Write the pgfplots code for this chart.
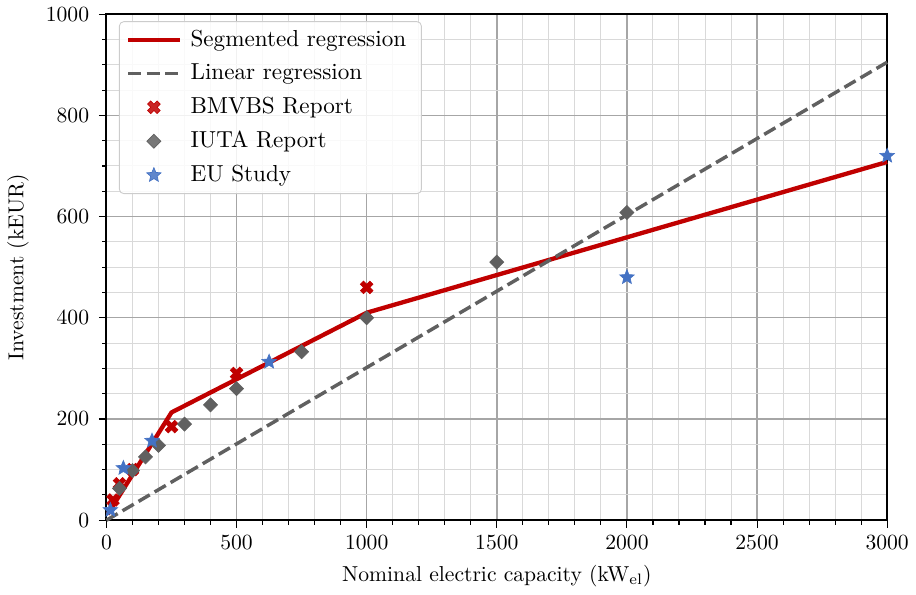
\documentclass[border=0pt]{standalone}
\usepackage{pgfplots}
\pgfplotsset{compat=1.18}
\definecolor{segred}{RGB}{192,0,0}
\definecolor{dgray}{RGB}{96,96,96}
\definecolor{eublue}{RGB}{68,114,196}
\pgfdeclareplotmark{fstar}{%
  \pgfpathmoveto{\pgfpointpolar{90}{\pgfplotmarksize}}%
  \pgfpathlineto{\pgfpointpolar{126}{0.45\pgfplotmarksize}}%
  \pgfpathlineto{\pgfpointpolar{162}{\pgfplotmarksize}}%
  \pgfpathlineto{\pgfpointpolar{198}{0.45\pgfplotmarksize}}%
  \pgfpathlineto{\pgfpointpolar{234}{\pgfplotmarksize}}%
  \pgfpathlineto{\pgfpointpolar{270}{0.45\pgfplotmarksize}}%
  \pgfpathlineto{\pgfpointpolar{306}{\pgfplotmarksize}}%
  \pgfpathlineto{\pgfpointpolar{342}{0.45\pgfplotmarksize}}%
  \pgfpathlineto{\pgfpointpolar{18}{\pgfplotmarksize}}%
  \pgfpathlineto{\pgfpointpolar{54}{0.45\pgfplotmarksize}}%
  \pgfpathclose\pgfusepathqfillstroke}
\pgfdeclareplotmark{fX}{%
  \pgftransformrotate{45}%
  \pgfpathmoveto{\pgfpoint{-0.333\pgfplotmarksize}{-\pgfplotmarksize}}%
  \pgfpathlineto{\pgfpoint{-0.333\pgfplotmarksize}{-0.333\pgfplotmarksize}}%
  \pgfpathlineto{\pgfpoint{-\pgfplotmarksize}{-0.333\pgfplotmarksize}}%
  \pgfpathlineto{\pgfpoint{-\pgfplotmarksize}{0.333\pgfplotmarksize}}%
  \pgfpathlineto{\pgfpoint{-0.333\pgfplotmarksize}{0.333\pgfplotmarksize}}%
  \pgfpathlineto{\pgfpoint{-0.333\pgfplotmarksize}{\pgfplotmarksize}}%
  \pgfpathlineto{\pgfpoint{0.333\pgfplotmarksize}{\pgfplotmarksize}}%
  \pgfpathlineto{\pgfpoint{0.333\pgfplotmarksize}{0.333\pgfplotmarksize}}%
  \pgfpathlineto{\pgfpoint{\pgfplotmarksize}{0.333\pgfplotmarksize}}%
  \pgfpathlineto{\pgfpoint{\pgfplotmarksize}{-0.333\pgfplotmarksize}}%
  \pgfpathlineto{\pgfpoint{0.333\pgfplotmarksize}{-0.333\pgfplotmarksize}}%
  \pgfpathlineto{\pgfpoint{0.333\pgfplotmarksize}{-\pgfplotmarksize}}%
  \pgfpathclose\pgfusepathqfillstroke}
\begin{document}
\begin{tikzpicture}
\begin{axis}[
  scale only axis,
  width=361pt, height=234pt,
  xmin=0, xmax=3000, ymin=0, ymax=1000,
  xtick={0,500,...,3000}, ytick={0,200,...,1000},
  minor x tick num=4, minor y tick num=3,
  scaled x ticks=false,
  xticklabel style={/pgf/number format/1000 sep={}},
  yticklabel style={/pgf/number format/1000 sep={}, xshift=-1pt},
  tick align=outside,
  xtick pos=bottom, ytick pos=left,
  major tick length=3.5pt, minor tick length=2pt,
  every tick/.style={black, line width=0.5pt},
  axis line style={black, line width=0.9pt},
  grid=both,
  major grid style={line width=0.65pt, black!35},
  minor grid style={line width=0.46pt, black!15},
  xlabel={Nominal electric capacity (kW$_\mathrm{el}$)},
  ylabel={Investment (kEUR)},
  xlabel style={yshift=-0.5pt},
  ylabel style={yshift=1pt},
  clip=false,
  legend cell align=left,
  legend style={at={(0.016,0.986)}, anchor=north west, rounded corners=2pt,
    draw=black!20, fill=white, fill opacity=0.85, text opacity=1,
    inner xsep=3pt, inner ysep=2pt, row sep=2.6pt, font=\fontsize{10.7}{12}\selectfont,
    nodes={inner xsep=4pt}},
  legend image code/.code={\draw[mark repeat=2,mark phase=2] plot coordinates {(0cm,0cm) (0.42cm,0cm) (0.84cm,0cm)};},
]
\addplot[segred, line width=2pt, no marks] coordinates {
  (5,12) (250,213) (1000,410) (3000,708)
};
\addlegendentry{Segmented regression}
\addplot[dgray, line width=1.6pt, dash pattern=on 6pt off 2.6pt, no marks] coordinates {
  (0,0) (3000,905)
};
\addlegendentry{Linear regression}
\addplot[only marks, mark=fX, mark size=3.1pt, segred, mark options={fill=segred, draw=segred, line width=0.3pt}] coordinates {
  (25,40) (50,72) (100,100) (250,185) (500,290) (1000,460)
};
\addlegendentry{BMVBS Report}
\addplot[only marks, mark=square*, mark size=2.3pt, dgray, mark options={fill=dgray, draw=dgray, rotate=45, line width=0.3pt}] coordinates {
  (50,63) (100,98) (150,125) (200,148) (300,190) (400,228) (500,260) (750,333) (1000,400) (1500,510) (2000,608)
};
\addlegendentry{IUTA Report}
\addplot[only marks, mark=fstar, mark size=3.5pt, eublue, mark options={fill=eublue, draw=eublue, line width=0.3pt}] coordinates {
  (15,20) (65,103) (175,157) (625,313) (2000,480) (3000,720)
};
\addlegendentry{EU Study}
\end{axis}
\end{tikzpicture}
\end{document}
